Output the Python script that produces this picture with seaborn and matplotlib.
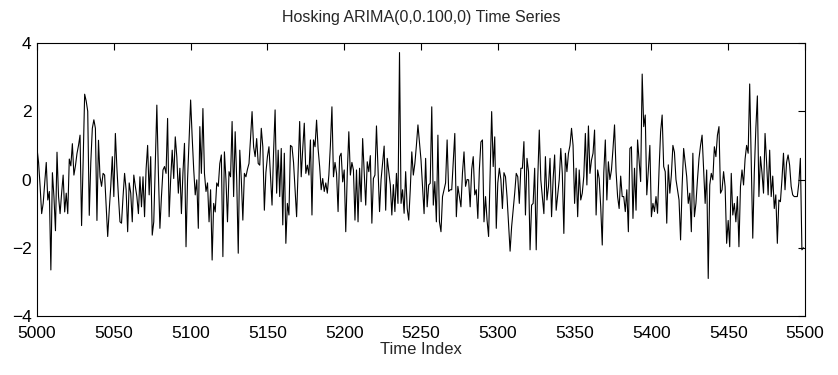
import numpy as np
import pandas as pd
import matplotlib
matplotlib.use("Agg")
import matplotlib.pyplot as plt
import seaborn as sns

# values, in blocks of time indices
seg_5000 = [0.9, 0.5, -0.2, -1.0, -0.7, -0.1, 0.5, -0.6, -0.35, -2.65,
            0.2, -0.5, -1.5, 0.8, -0.5, -1.0, -0.4, 0.13, -0.95, -0.4,
            -1.0, 0.6, 0.4, 1.05, 0.13, 0.4, 0.76, 1.0, 1.3, -1.35,
            0.5, 2.5, 2.3, 2.0, -1.05, 0.5, 1.5, 1.75, 1.5, -1.2,
            1.15]
seg_5041 = [0.08, -0.2, 0.18, 0.13, -0.8, -1.67, -0.9, -0.2, 0.67, -0.5,
            1.35, 0.33, -0.5, -1.24, -1.28, -0.5, 0.18, -0.3, -1.53, -0.1,
            -0.4, -1.24, 0.13, -0.2, -0.5, -1.0, 0.08, -0.8, 0.08, -1.09,
            0.3, 1.0, -0.45, 0.67, -1.63, -1.24, 0.5, 2.18, 0.2, -1.43,
            -0.5, 0.28]
seg_5083 = [0.38, 0.18, 1.79, -1.09, 0.0, 0.86, 0.03, 1.25, 0.67, -0.4,
            0.33, -1.0, 0.2, 1.06, -1.97, 0.0, 1.15, 2.33, 1.25, 0.3,
            -0.45, -0.01, -1.43, 1.55, 0.18, 2.08, 0.18, -0.35, -0.1, -1.24,
            -0.3, -2.36, -0.7, -0.95, -0.1, -0.2, 0.47, 0.72, -2.26, 0.81,
            0.0, -1.24]
seg_5125 = [0.23, 0.08, 1.7, -0.5, 1.4, 0.0, -2.16, 0.86, 0.0, -1.19,
            0.18, 0.08, 0.3, 0.47, 1.2, 1.99, 0.96, 0.67, 1.2, 0.47,
            0.42, 1.5, 0.96, -0.9, 0.2, 0.67, 0.96, 0.1, -0.75, 0.8,
            2.04, -0.4, 0.86, -0.5, 0.91, -1.33, 0.77, -1.87, -0.7, -1.04,
            1.0, 0.96]
seg_5167 = [0.5, -0.3, -1.09, 0.3, 1.7, 0.08, 0.9, 1.65, 0.18, 0.42,
            0.13, 1.16, -1.04, 1.16, 0.96, 1.74, 0.9, 0.38, -0.3, 0.03,
            -0.35, -0.1, -0.4, 0.13, 1.0, 2.13, 0.08, 0.5, 0.18, -0.94,
            0.67, 0.77, -0.07, 0.28, -1.53, 0.2, 1.4, 0.13, 0.5, 0.28,
            -1.19, 0.28]
seg_5209 = [-1.24, 0.33, -0.65, 1.2, 0.2, -0.75, 0.52, 0.23, 0.7, -1.28,
            0.03, 0.13, 1.57, 0.28, -0.94, 0.0, 0.5, 0.98, -0.9, 0.62,
            0.23, -0.15, -1.04, -0.15, -0.94, 0.18, -0.7, 3.72, -0.7, -0.3,
            -0.99, 0.23, -0.85, -1.19, -0.3, 0.81, 0.13, 0.47, 1.0, 1.6,
            1.1]
seg_5250 = [0.57, -0.2, -1.0, 0.62, -0.8, -0.16, -0.11, 2.13, -0.75, -0.06,
            -1.24, 1.3, -1.24, -1.53, -0.5, -0.3, -0.1, 1.16, -0.35, -0.3,
            -0.3, 0.5, 1.35, -1.09, -0.2, -0.5, -0.8, 0.2, 0.81, -0.2,
            0.0, -0.01, -0.8, 0.3, 0.67, -0.45, -0.3, -1.14, 0.3, 1.1]
seg_5290 = [1.16, -1.24, -0.5, -1.19, -1.67, 0.18, 1.99, 0.38, 1.25, -1.43,
            -0.1, 0.33, 0.0, -0.85, 0.2, 0.08, -0.5, -1.3, -2.1, -1.38,
            -0.9, -0.4, 0.18, 0.08, -0.7, 0.33, 0.33, 1.11, -1.04, 0.62,
            0.23, -2.06, -0.75, -0.7, 0.33, -2.06, 0.0, 1.45, -0.01, -0.5,
            -1.0, 0.67]
seg_5332 = [-0.6, -0.2, 0.62, -1.09, 0.0, 0.72, -0.9, -0.45, 0.0, 0.91,
            0.18, -1.58, 0.77, 0.23, 0.77, 1.0, 1.5, 1.0, -0.7, 0.33,
            -1.09, 0.28, -0.6, -0.4, 0.1, 1.35, -0.16, 1.57, 0.18, 0.57,
            0.77, 1.45, -1.04, 0.28, 0.03, -0.8, -1.92, 0.2, 1.16, -0.6,
            0.52, 0.0]
seg_5374 = [0.28, 0.9, 1.6, 0.23, -0.5, -0.85, 0.1, -0.5, -0.5, -0.94,
            -0.3, -1.53, 0.91, 0.96, -1.14, 0.33, -0.9, 1.16, 0.57, -0.06,
            3.09, 1.55, 1.89, -0.45, 0.3, 1.0, -1.09, -0.7, -0.94, -0.5,
            -0.99, 0.3, 1.4, 1.89, 0.38, 0.23, -1.28, 0.43, -0.4, 0.13,
            1.0]
seg_5415 = [0.8, 0.0, -0.3, -0.6, -1.77, -0.2, 0.91, 0.5, 0.08, -0.7,
            -0.4, -1.53, 0.77, -1.09, -0.7, 0.0, 0.62, 1.0, 1.3, 0.33,
            -0.7, 0.28, -2.9, -0.16, 0.18, -0.01, 0.96, 0.67, 1.3, 1.55,
            -0.4, -0.3, 0.23, -0.21, -1.87, -1.2, -1.97, 0.18, -1.04, -0.7,
            -1.24, -0.5]
seg_5457 = [-1.97, -0.2, 0.28, -0.16, 0.6, 1.0, 0.77, 2.8, 0.5, -1.72,
            0.2, 1.5, 2.45, -0.5, 0.67, 0.2, -0.4, 1.35, 0.5, -0.45,
            0.86, -0.5, 0.1, -0.85, -0.45, -1.87, -0.6, -0.65, 0.0, 0.77,
            -0.3, 0.5, 0.72, 0.42, -0.2, -0.45, -0.5, -0.5, -0.5, -0.1,
            0.62, -2.06, -2.0]

segments = [seg_5000, seg_5041, seg_5083, seg_5125, seg_5167, seg_5209,
            seg_5250, seg_5290, seg_5332, seg_5374, seg_5415, seg_5457]
values = np.concatenate([np.asarray(s, float) for s in segments])
start_index = 5000
time_index = np.arange(start_index, start_index + len(values))

x_ticks = [5000, 5050, 5100, 5150, 5200, 5250, 5300, 5350, 5400, 5450, 5500]
y_ticks = [-4, -2, 0, 2, 4]
title = "Hosking ARIMA(0,0.100,0) Time Series"
xlabel = "Time Index"

df = pd.DataFrame({"t": time_index, "v": values})

sns.set_style("white")
plt.rcParams["font.family"] = ["Liberation Sans", "DejaVu Sans"]

fig = plt.figure(figsize=(8.38, 3.75), dpi=100)
ax = fig.add_axes([0.0442, 0.1573, 0.9164, 0.728])
sns.lineplot(data=df, x="t", y="v", ax=ax, color="black", linewidth=0.8)

ax.set_xlim(5000, 5500)
ax.set_ylim(-4, 4)
ax.set_xticks(x_ticks)
ax.set_yticks(y_ticks)
ax.set_yticklabels(["\u22124", "\u22122", "0", "2", "4"])
ax.set_title(title, fontsize=11.5, pad=15)
ax.set_xlabel(xlabel, fontsize=12, labelpad=1)
ax.set_ylabel("")
ax.tick_params(direction="in", top=True, right=True, length=5, width=0.8,
               labelsize=12.5, colors="black")
ax.tick_params(axis="x", pad=7)
ax.tick_params(axis="y", pad=4)
for sp in ax.spines.values():
    sp.set_visible(True)
    sp.set_color("black")
    sp.set_linewidth(0.8)

fig.savefig("out.png", dpi=100, facecolor="white")
